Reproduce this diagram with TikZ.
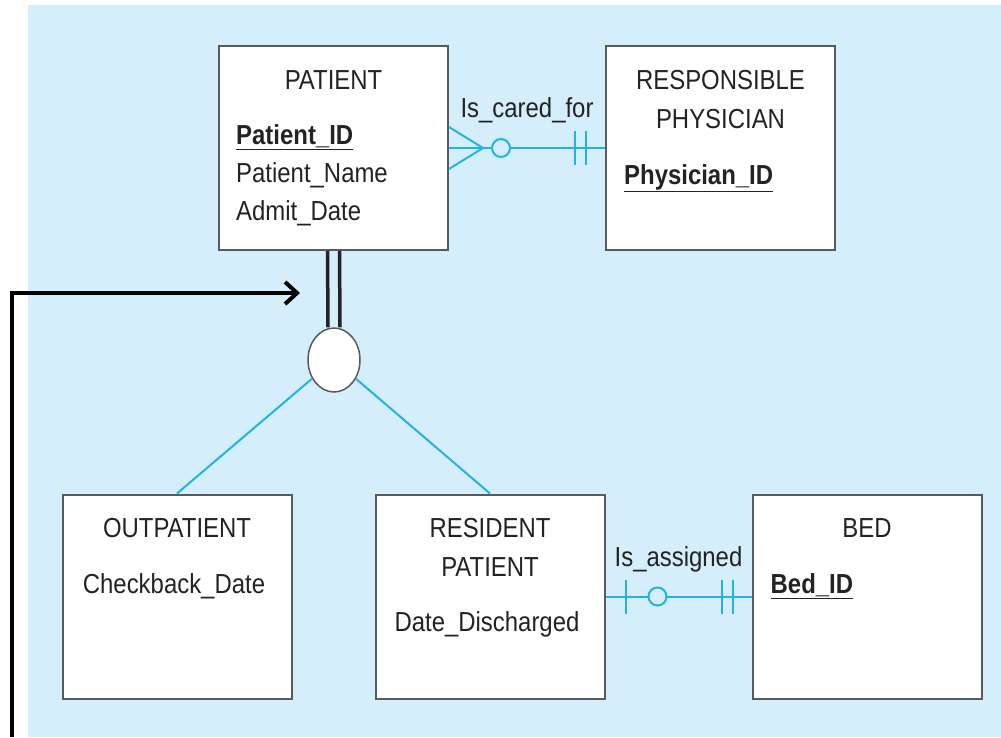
\documentclass[tikz,border=0pt]{standalone}
\usepackage{fontspec}
\setmainfont[FakeStretch=0.87]{Liberation Sans}
\usetikzlibrary{shapes.geometric,calc,arrows.meta}

\definecolor{bgblue}{RGB}{212,239,251}
\definecolor{relblue}{RGB}{35,178,228}
\definecolor{boxgray}{RGB}{90,90,90}
\definecolor{inkgray}{RGB}{35,35,35}

\tikzset{
    entity/.style={draw=boxgray, line width=2pt, fill=white, minimum width=229pt, minimum height=204pt, inner sep=0pt},
    txt/.style={anchor=base, inner sep=0pt, text=inkgray, font=\fontsize{27.5}{33}\selectfont},
    attr/.style={txt, anchor=base west},
    rel/.style={draw=relblue, line width=2pt},
    optmark/.style={circle, draw=relblue, line width=2pt, fill=bgblue, minimum size=18pt, inner sep=0pt},
}

\newcommand{\pkey}[1]{\underline{\textbf{#1}}}

\begin{document}
\begin{tikzpicture}[x=1pt, y=-1pt]
    \useasboundingbox (0,0) rectangle (1001,737);
    \fill[bgblue] (28,5) rectangle (1001,737);

    % entities
    \node[entity] (patient) at (333.5,148) {};
    \node[entity] (physician) at (720.5,148) {};
    \node[entity] (outpatient) at (177,596.5) {};
    \node[entity] (resident) at (490,596.5) {};
    \node[entity] (bed) at (867,596.5) {};

    \node[txt] at ($(patient.north)+(0,44)$) {PATIENT};
    \node[attr] at ($(patient.north west)+(18,99)$) {\pkey{Patient\_ID}};
    \node[attr] at ($(patient.north west)+(18,137)$) {Patient\_Name};
    \node[attr] at ($(patient.north west)+(18,175)$) {Admit\_Date};

    \node[txt] at ($(physician.north)+(0,44)$) {RESPONSIBLE};
    \node[txt] at ($(physician.north)+(0,83)$) {PHYSICIAN};
    \node[attr] at ($(physician.north west)+(19,139)$) {\pkey{Physician\_ID}};

    \node[txt] at ($(outpatient.north)+(0,44)$) {OUTPATIENT};
    \node[txt] at ($(outpatient.north)+(-3,100)$) {Checkback\_Date};

    \node[txt] at ($(resident.north)+(0,44)$) {RESIDENT};
    \node[txt] at ($(resident.north)+(0,83)$) {PATIENT};
    \node[txt] at ($(resident.north)+(-3,138)$) {Date\_Discharged};

    \node[txt] at ($(bed.north)+(0,44)$) {BED};
    \node[attr] at ($(bed.north west)+(19,100)$) {\pkey{Bed\_ID}};

    % Is_cared_for
    \draw[rel] (patient.east) -- (physician.west);
    \node[txt] at ($(patient.east)!0.5!(physician.west)+(0,-31)$) {Is\_cared\_for};
    \draw[rel] ($(patient.east)+(0,-21)$) -- ($(patient.east)+(34,0)$) -- ($(patient.east)+(0,21)$);
    \node[optmark] at ($(patient.east)+(52,0)$) {};
    \draw[rel] ($(physician.west)+(-30,-17)$) -- ($(physician.west)+(-30,17)$);
    \draw[rel] ($(physician.west)+(-19,-17)$) -- ($(physician.west)+(-19,17)$);

    % Is_assigned
    \draw[rel] (resident.east) -- (bed.west);
    \node[txt] at ($(resident.east)!0.5!(bed.west)+(0,-30.5)$) {Is\_assigned};
    \draw[rel] ($(resident.east)+(20,-17)$) -- ($(resident.east)+(20,17)$);
    \node[optmark] at ($(resident.east)+(52,0)$) {};
    \draw[rel] ($(bed.west)+(-30,-17)$) -- ($(bed.west)+(-30,17)$);
    \draw[rel] ($(bed.west)+(-19,-17)$) -- ($(bed.west)+(-19,17)$);

    % subtype circle
    \node[ellipse, draw=boxgray, line width=1.5pt, fill=white, minimum width=52pt, minimum height=64pt, inner sep=0pt] (isa) at (334,360) {};
    \draw[inkgray, line width=3.5pt] ([xshift=-6pt]patient.south) -- ([xshift=-6pt]isa.north);
    \draw[inkgray, line width=3.5pt] ([xshift=6pt]patient.south) -- ([xshift=6pt]isa.north);
    \draw[rel] (isa) -- (outpatient.north);
    \draw[rel] (isa) -- (resident.north);

    % pointer
    \coordinate (pstart) at (12,737);
    \coordinate (pend) at (300,293);
    \draw[black, line width=4pt, -{Straight Barb[length=12pt, width=22pt]}] (pstart) |- (pend);
\end{tikzpicture}
\end{document}
